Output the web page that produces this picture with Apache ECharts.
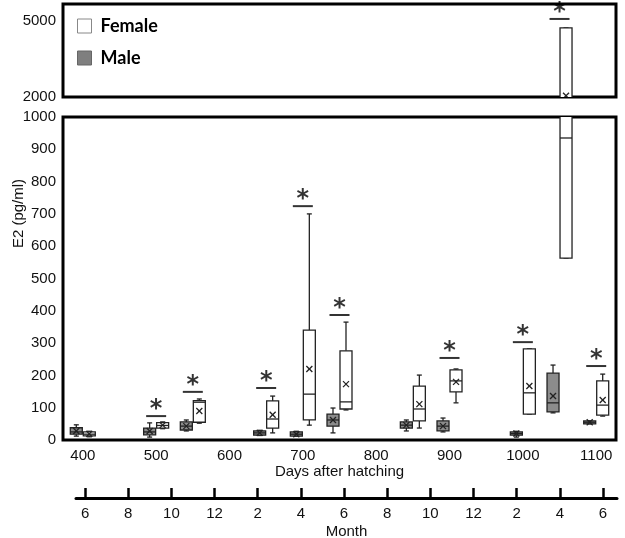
<!DOCTYPE html>
<html>
<head>
<meta charset="utf-8">
<script src="https://cdn.jsdelivr.net/npm/echarts@6/dist/echarts.min.js"></script>
<style>
  html, body { margin: 0; padding: 0; background: #fff; }
  #chart { width: 625px; height: 538px; }
</style>
</head>
<body>
<div id="chart"></div>
<script>
// sampling days; male box sits left of the day, female box right of it
const DAYS = [400, 500, 550, 650, 700, 750, 850, 900, 1000, 1050, 1100];

// [min, Q1, median, Q3, max] for each day
const FEMALE_BOX = [
  [10, 13, 18, 25, 27],
  [35, 37, 45, 54, 56],
  [52, 55, 117, 122, 127],
  [22, 37, 65, 121, 136],
  [46, 62, 142, 340, 700],
  [93, 96, 118, 276, 365],
  [37, 59, 96, 167, 201],
  [115, 149, 183, 217, 220],
  [80, 80, 146, 282, 282],
  [563, 563, 935, 4730, 4730],
  [74, 77, 108, 183, 204],
];
const FEMALE_MEAN = [19, 46, 90, 78, 220, 173, 111, 180, 167, 2050, 124];

const MALE_BOX = [
  [12, 18, 25, 38, 47],
  [9, 16, 25, 37, 53],
  [28, 31, 43, 56, 62],
  [14, 15, 22, 28, 30],
  [12, 12, 18, 25, 27],
  [22, 43, 62, 80, 99],
  [28, 37, 46, 56, 62],
  [25, 28, 43, 59, 68],
  [9, 15, 20, 25, 27],
  [84, 87, 115, 207, 232],
  [50, 50, 55, 59, 59],
];
const MALE_MEAN = [28, 28, 43, 22, 18, 62, 46, 43, 20, 136, 55];

// significance bars (*): day of the pair and bar height
const SIG_DAYS = [500, 550, 650, 700, 750, 900, 1000, 1050, 1100];
const SIG_LEVEL = [74, 149, 161, 724, 387, 254, 303, 5080, 229];

const DAY_TICKS = [400, 500, 600, 700, 800, 900, 1000, 1100];
const TOP_TICKS = [2000, 5000];
const MONTH_TICKS = ["6", "8", "10", "12", "2", "4", "6", "8", "10", "12", "2", "4", "6"];

const BOX_W = 12;
const SHIFT = 6.5;
const FONT = "Liberation Sans";
const INK = "#222";

function boxRenderer(fill, shift) {
  return function (params, api) {
    const x = api.value(0);
    const lo = api.coord([x, api.value(1)]);
    const q1 = api.coord([x, api.value(2)]);
    const md = api.coord([x, api.value(3)]);
    const q3 = api.coord([x, api.value(4)]);
    const hi = api.coord([x, api.value(5)]);
    const mn = api.coord([x, api.value(6)]);
    const cx = lo[0] + shift;
    const h = BOX_W / 2;
    const line = { stroke: INK, lineWidth: 1.3 };
    return {
      type: "group",
      children: [
        { type: "line", shape: { x1: cx, y1: hi[1], x2: cx, y2: q3[1] }, style: line },
        { type: "line", shape: { x1: cx - 2.5, y1: hi[1], x2: cx + 2.5, y2: hi[1] }, style: line },
        { type: "line", shape: { x1: cx, y1: q1[1], x2: cx, y2: lo[1] }, style: line },
        { type: "line", shape: { x1: cx - 2.5, y1: lo[1], x2: cx + 2.5, y2: lo[1] }, style: line },
        {
          type: "rect",
          shape: { x: cx - h, y: q3[1], width: BOX_W, height: q1[1] - q3[1] },
          style: { fill: fill, stroke: INK, lineWidth: 1.3 },
        },
        { type: "line", shape: { x1: cx - h, y1: md[1], x2: cx + h, y2: md[1] }, style: line },
        { type: "line", shape: { x1: cx - 3, y1: mn[1] - 3, x2: cx + 3, y2: mn[1] + 3 }, style: line },
        { type: "line", shape: { x1: cx - 3, y1: mn[1] + 3, x2: cx + 3, y2: mn[1] - 3 }, style: line },
      ],
    };
  };
}

const femaleData = DAYS.map((d, i) => [d, ...FEMALE_BOX[i], FEMALE_MEAN[i]]);
const maleData = DAYS.map((d, i) => [d, ...MALE_BOX[i], MALE_MEAN[i]]);
const sigLow = SIG_DAYS.map((d, i) => [d, SIG_LEVEL[i]]).filter((p) => p[1] <= 1000);
const sigHigh = SIG_DAYS.map((d, i) => [d, SIG_LEVEL[i]]).filter((p) => p[1] > 1000);

const labelStyle = { fontFamily: FONT, fontSize: 15, color: "#111" };
const plain = (v) => String(v);

function sigSeries(axis, data) {
  return {
    type: "scatter",
    xAxisIndex: axis,
    yAxisIndex: axis,
    silent: true,
    symbol: "rect",
    symbolSize: [20, 2],
    itemStyle: { color: "#000" },
    label: {
      show: true,
      formatter: "*",
      position: "top",
      distance: -7,
      fontFamily: "DejaVu Sans",
      fontWeight: "bold",
      fontSize: 24,
      color: "#000",
    },
    data: data,
  };
}

const chart = echarts.init(document.getElementById("chart"));
chart.setOption({
  animation: false,
  legend: {
    orient: "vertical",
    left: 72,
    top: 12,
    itemWidth: 14,
    itemHeight: 14,
    itemGap: 14,
    icon: "rect",
    selectedMode: false,
    textStyle: { fontFamily: "Lato", fontWeight: "bold", fontSize: 18, color: "#000", padding: [0, 0, 0, 4] },
    data: [
      { name: "Female", itemStyle: { color: "#fff", borderColor: "#888", borderWidth: 1 } },
      { name: "Male", itemStyle: { color: "#7f7f7f", borderColor: "#666", borderWidth: 1 } },
    ],
  },
  grid: [
    { left: 63, right: 9, top: 4, height: 93, show: true, borderColor: "#000", borderWidth: 3, outerBoundsMode: "none" },
    { left: 63, right: 9, top: 117, height: 323, show: true, borderColor: "#000", borderWidth: 3, outerBoundsMode: "none" },
    { left: 76, right: 8, top: 496, height: 2, outerBoundsMode: "none" },
  ],
  xAxis: [
    { type: "value", gridIndex: 0, min: 373, max: 1127, show: false },
    {
      type: "value",
      gridIndex: 1,
      min: 373,
      max: 1127,
      axisLine: { show: false },
      axisTick: { show: false },
      splitLine: { show: false },
      axisLabel: { customValues: DAY_TICKS, formatter: plain, margin: 8, ...labelStyle },
      name: "Days after hatching",
      nameLocation: "middle",
      nameGap: 24,
      nameMoveOverlap: false,
      nameTextStyle: labelStyle,
    },
    {
      type: "value",
      gridIndex: 2,
      min: -0.42,
      max: 24.65,
      axisLine: { lineStyle: { color: "#000", width: 3 } },
      axisTick: {
        inside: true,
        length: 10,
        customValues: MONTH_TICKS.map((_, i) => i * 2),
        lineStyle: { color: "#000", width: 2.5 },
      },
      splitLine: { show: false },
      axisLabel: {
        customValues: MONTH_TICKS.map((_, i) => i * 2),
        formatter: (v) => MONTH_TICKS[Math.round(v / 2)],
        margin: 8,
        ...labelStyle,
      },
      name: "Month",
      nameLocation: "middle",
      nameGap: 26,
      nameMoveOverlap: false,
      nameTextStyle: labelStyle,
    },
  ],
  yAxis: [
    {
      type: "value",
      gridIndex: 0,
      min: 2000,
      max: 5670,
      axisLine: { show: false },
      axisTick: { show: false },
      splitLine: { show: false },
      axisLabel: { customValues: TOP_TICKS, formatter: plain, margin: 7, ...labelStyle },
    },
    {
      type: "value",
      gridIndex: 1,
      min: 0,
      max: 1000,
      interval: 100,
      axisLine: { show: false },
      axisTick: { show: false },
      splitLine: { show: false },
      axisLabel: { formatter: plain, margin: 7, ...labelStyle },
      name: "E2 (pg/ml)",
      nameLocation: "middle",
      nameRotate: 90,
      nameGap: 37,
      nameMoveOverlap: false,
      nameTextStyle: { ...labelStyle, padding: [0, 0, 0, 130] },
    },
    { type: "value", gridIndex: 2, show: false },
  ],
  series: [
    {
      name: "Female",
      type: "custom",
      xAxisIndex: 0,
      yAxisIndex: 0,
      clip: true,
      itemStyle: { color: "#fff" },
      renderItem: boxRenderer("#fff", SHIFT),
      encode: { x: 0, y: [1, 2, 3, 4, 5, 6] },
      data: femaleData,
    },
    {
      name: "Female",
      type: "custom",
      xAxisIndex: 1,
      yAxisIndex: 1,
      clip: true,
      itemStyle: { color: "#fff" },
      renderItem: boxRenderer("#fff", SHIFT),
      encode: { x: 0, y: [1, 2, 3, 4, 5, 6] },
      data: femaleData,
    },
    {
      name: "Male",
      type: "custom",
      xAxisIndex: 1,
      yAxisIndex: 1,
      clip: true,
      itemStyle: { color: "#7f7f7f" },
      renderItem: boxRenderer("#8c8c8c", -SHIFT),
      encode: { x: 0, y: [1, 2, 3, 4, 5, 6] },
      data: maleData,
    },
    sigSeries(1, sigLow),
    sigSeries(0, sigHigh),
  ],
});
window.addEventListener("resize", () => chart.resize());
</script>
</body>
</html>
